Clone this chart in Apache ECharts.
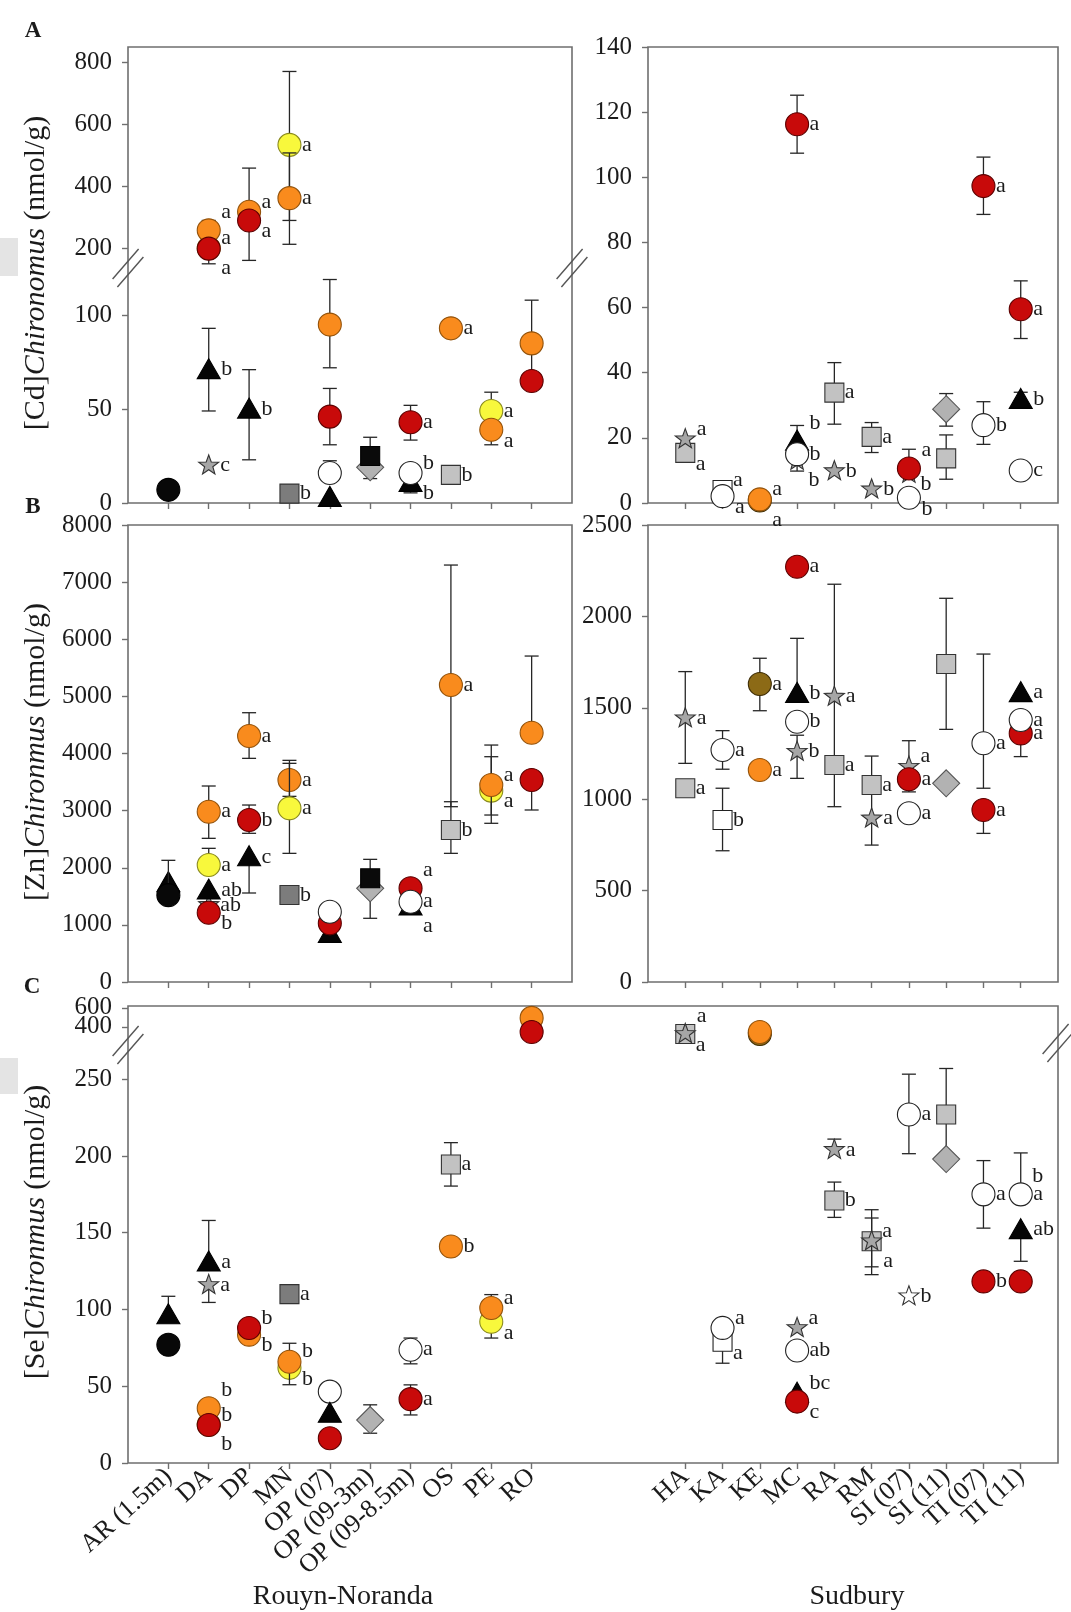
<!DOCTYPE html>
<html>
<head>
<meta charset="utf-8">
<script src="https://cdn.jsdelivr.net/npm/echarts@6/dist/echarts.min.js"></script>
<style>
html,body{margin:0;padding:0;background:#fff}
#fig{width:1071px;height:1612px}
</style>
</head>
<body>
<div id="fig"></div>
<script>
// sites (x categories)
var sitesRN = ['AR (1.5m)','DA','DP','MN','OP (07)','OP (09-3m)','OP (09-8.5m)','OS','PE','RO'];
var sitesSU = ['HA','KA','KE','MC','RA','RM','SI (07)','SI (11)','TI (07)','TI (11)'];

// rows: [site, marker, mean, low end of bar, high end of bar, letter, letter spot]
// rows are drawn in order, later ones on top
var cdRN = [
  ['AR (1.5m)','black',7,null,null,'',''],
  ['DA','tri',71,49,93,'b','r'],
  ['DA','star',20,null,null,'c','r'],
  ['DA','yellow',200,null,null,'a','dd'],
  ['DA','orange',258,225,290,'a','uu'],
  ['DA','red',199,150,null,'a','u'],
  ['DP','tri',50,23,71,'b','r'],
  ['DP','orange',318,161,459,'a','u'],
  ['DP','red',290,null,null,'a','d'],
  ['MN','dsq',5,null,null,'b','r'],
  ['MN','yellow',534,290,771,'a','r'],
  ['MN','orange',362,213,508,'a','r'],
  ['OP (07)','orange',95,72,119,'',''],
  ['OP (07)','red',46,31,61,'',''],
  ['OP (07)','white',16,null,22.5,'',''],
  ['OP (07)','tri',3,null,null,'',''],
  ['OP (09-3m)','dia',19,13,null,'',''],
  ['OP (09-3m)','bsq',25,null,35,'',''],
  ['OP (09-8.5m)','tri',11,5.4,null,'b','d'],
  ['OP (09-8.5m)','white',16,10.6,null,'b','u'],
  ['OP (09-8.5m)','red',43,33.5,52,'a','r'],
  ['OS','gsq',15,null,null,'b','r'],
  ['OS','orange',93,null,null,'a','r'],
  ['PE','yellow',49,46,59,'a','r'],
  ['PE','orange',39,31,null,'a','d'],
  ['RO','orange',85,62,108,'',''],
  ['RO','red',65,null,null,'','']
];
var cdSU = [
  ['HA','gsq',15.4,null,null,'a','d'],
  ['HA','star',19.6,null,null,'a','u'],
  ['KA','wsq',4,null,null,'a','u'],
  ['KA','white',2.1,null,null,'a','d'],
  ['KE','olive',0.8,null,null,'a','dd'],
  ['KE','orange',1.1,null,null,'a','u'],
  ['MC','red',116.3,107.4,125.2,'a','r'],
  ['MC','star',13,null,null,'b','dd'],
  ['MC','tri',19,null,23.8,'b','uu'],
  ['MC','white',15,9.8,null,'b','r'],
  ['RA','gsq',33.9,24.2,43.1,'a','r'],
  ['RA','star',9.8,null,null,'b','r'],
  ['RM','gsq',20.3,15.5,24.7,'a','r'],
  ['RM','star',4.2,null,null,'b','r'],
  ['SI (07)','white',1.6,null,null,'b','d'],
  ['SI (07)','star',9,null,null,'b','d'],
  ['SI (07)','red',10.6,null,16.5,'a','uu'],
  ['SI (11)','dia',28.8,23.6,33.6,'',''],
  ['SI (11)','gsq',13.7,7.3,20.9,'',''],
  ['TI (07)','red',97.3,88.6,106.2,'a','r'],
  ['TI (07)','white',23.9,18,31.1,'b','r'],
  ['TI (11)','red',59.5,50.5,68.2,'a','r'],
  ['TI (11)','tri',31.8,30,34,'b','r'],
  ['TI (11)','white',10,null,null,'c','r']
];
var znRN = [
  ['AR (1.5m)','tri',1740,null,null,'',''],
  ['AR (1.5m)','black',1520,null,2130,'',''],
  ['DA','star',1350,null,null,'ab','r'],
  ['DA','tri',1610,null,null,'ab','r'],
  ['DA','red',1213,null,null,'b','d'],
  ['DA','yellow',2048,null,2340,'a','r'],
  ['DA','orange',2981,2515,3431,'a','r'],
  ['DP','tri',2193,1558,null,'c','r'],
  ['DP','red',2836,2603,3098,'b','r'],
  ['DP','orange',4306,3915,4714,'a','r'],
  ['MN','dsq',1523,null,null,'b','r'],
  ['MN','orange',3536,3250,3828,'a','r'],
  ['MN','yellow',3040,2252,3880,'a','r'],
  ['OP (07)','tri',852,null,null,'',''],
  ['OP (07)','red',1027,null,null,'',''],
  ['OP (07)','white',1231,null,null,'',''],
  ['OP (09-3m)','dia',1640,1115,null,'',''],
  ['OP (09-3m)','bsq',1815,null,2147,'',''],
  ['OP (09-8.5m)','red',1640,null,null,'a','uu'],
  ['OP (09-8.5m)','tri',1330,null,null,'a','dd'],
  ['OP (09-8.5m)','white',1406,null,null,'a','r'],
  ['OS','orange',5199,3069,7299,'a','r'],
  ['OS','gsq',2661,2252,3156,'b','r'],
  ['PE','yellow',3350,2778,3944,'a','d'],
  ['PE','orange',3448,2923,4148,'a','u'],
  ['RO','orange',4364,null,5706,'',''],
  ['RO','red',3536,3011,null,'','']
];
var znSU = [
  ['HA','star',1443,1196,1698,'a','r'],
  ['HA','gsq',1060,null,null,'a','r'],
  ['KA','white',1269,1164,1375,'a','r'],
  ['KA','wsq',886,718,1060,'b','r'],
  ['KE','olive',1630,1484,1771,'a','r'],
  ['KE','orange',1160,null,null,'a','r'],
  ['MC','red',2272,null,null,'a','r'],
  ['MC','star',1260,1114,1350,'b','r'],
  ['MC','white',1424,null,null,'b','r'],
  ['MC','tri',1579,null,1880,'b','r'],
  ['RA','star',1561,959,2176,'a','r'],
  ['RA','gsq',1187,null,null,'a','r'],
  ['RM','star',895,749,1060,'a','r'],
  ['RM','gsq',1078,null,1236,'a','r'],
  ['SI (07)','star',1178,null,1320,'a','u'],
  ['SI (07)','red',1109,1040,null,'a','r'],
  ['SI (07)','white',923,null,null,'a','r'],
  ['SI (11)','gsq',1740,1382,2099,'',''],
  ['SI (11)','dia',1087,null,null,'',''],
  ['TI (07)','white',1306,1060,1794,'a','r'],
  ['TI (07)','red',941,813,null,'a','r'],
  ['TI (11)','red',1360,1233,null,'a','r'],
  ['TI (11)','white',1433,null,null,'a','r'],
  ['TI (11)','tri',1583,null,null,'a','r']
];
var seRN = [
  ['AR (1.5m)','tri',96.6,null,108.6,'',''],
  ['AR (1.5m)','black',77,null,null,'',''],
  ['DA','star',116,104.6,null,'a','r'],
  ['DA','tri',131,null,158,'a','r'],
  ['DA','yellow',25,null,null,'b','dd'],
  ['DA','orange',35.7,null,null,'b','uu'],
  ['DA','red',24.8,null,null,'b','u'],
  ['DP','orange',83.6,null,null,'b','d'],
  ['DP','red',87.9,null,null,'b','u'],
  ['MN','dsq',110,null,null,'a','r'],
  ['MN','yellow',62,null,null,'b','d'],
  ['MN','orange',66,51,78,'b','u'],
  ['OP (07)','white',46.5,null,null,'',''],
  ['OP (07)','tri',32.4,null,null,'',''],
  ['OP (07)','red',16.1,null,null,'',''],
  ['OP (09-3m)','dia',28,19.4,37.9,'',''],
  ['OP (09-8.5m)','white',73.8,64.6,81.4,'a','r'],
  ['OP (09-8.5m)','red',41.6,31.3,50.9,'a','r'],
  ['OS','gsq',194.5,180.4,208.7,'a','r'],
  ['OS','orange',141,137,145,'b','r'],
  ['PE','yellow',92,81.4,null,'a','d'],
  ['PE','orange',101,null,109.7,'a','u'],
  ['RO','orange',495,null,null,'',''],
  ['RO','red',347,null,null,'','']
];
var seSU = [
  ['HA','gsq',326,null,null,'a','d'],
  ['HA','star',326,null,null,'a','uu'],
  ['KA','wsq',79,65,null,'a','d'],
  ['KA','white',88,null,null,'a','u'],
  ['KE','olive',325,null,null,'',''],
  ['KE','orange',347,null,null,'',''],
  ['MC','star',88,null,null,'a','u'],
  ['MC','white',73.3,null,null,'ab','r'],
  ['MC','tri',45.5,null,null,'bc','u'],
  ['MC','red',40,null,null,'c','d'],
  ['RA','star',204,null,211,'a','r'],
  ['RA','gsq',171,160,183,'b','r'],
  ['RM','gsq',144.5,122.7,165,'a','u'],
  ['RM','star',144.5,127.8,159.6,'a','dd'],
  ['SI (07)','white',227,201.5,253.3,'a','r'],
  ['SI (07)','wstar',108.6,null,null,'b','r'],
  ['SI (11)','gsq',227,200,257,'',''],
  ['SI (11)','dia',198,null,null,'',''],
  ['TI (07)','white',175,153,197,'a','r'],
  ['TI (07)','red',118.3,null,null,'b','r'],
  ['TI (11)','wstar',175,null,null,'b','uu'],
  ['TI (11)','white',175,null,202,'a','r'],
  ['TI (11)','tri',152,131.4,null,'ab','r'],
  ['TI (11)','red',118.3,null,null,'','']
];

var FONT = 'Liberation Serif';
var INK = '#1b1b1b';
var FRAME = '#6f6f6f';
var IDX = [0,1,2,3,4,5,6,7,8,9];
var EVEN = [0,2,4,6,8], ODD = [1,3,5,7,9];

// marker looks
var KIND = {
  black:  {shape:'circle', fill:'#080808', stroke:'#000'},
  red:    {shape:'circle', fill:'#c80a0a', stroke:'#5c0000'},
  orange: {shape:'circle', fill:'#f98b1d', stroke:'#93520a'},
  yellow: {shape:'circle', fill:'#f8f83c', stroke:'#8a8a1e'},
  olive:  {shape:'circle', fill:'#8c6a16', stroke:'#3d2c05'},
  white:  {shape:'circle', fill:'#ffffff', stroke:'#222'},
  tri:    {shape:'tri', fill:'#050505', stroke:'#000'},
  star:   {shape:'star', fill:'#a6a6a6', stroke:'#333'},
  wstar:  {shape:'star', fill:'#ffffff', stroke:'#333'},
  gsq:    {shape:'sq', fill:'#c2c2c2', stroke:'#333'},
  dsq:    {shape:'sq', fill:'#7c7c7c', stroke:'#333'},
  bsq:    {shape:'sq', fill:'#0a0a0a', stroke:'#000'},
  wsq:    {shape:'sq', fill:'#ffffff', stroke:'#222'},
  dia:    {shape:'dia', fill:'#b2b2b2', stroke:'#555'}
};
var HALF = {circle:11.5, tri:11.5, sq:9.5, dia:13.5, star:10.5};
var SPOT = {r:0, u:-10, uu:-18, d:11, dd:20};

function markerEls(kind, x, y) {
  var k = KIND[kind];
  var st = {fill:k.fill, stroke:k.stroke, lineWidth:1.1};
  if (k.shape === 'circle') return {type:'circle', shape:{cx:x, cy:y, r:11.5}, style:st};
  if (k.shape === 'tri') return {type:'polygon', shape:{points:[[x,y-11],[x+11.5,y+9],[x-11.5,y+9]]}, style:st};
  if (k.shape === 'sq') return {type:'rect', shape:{x:x-9.5, y:y-9.5, width:19, height:19}, style:st};
  if (k.shape === 'dia') return {type:'polygon', shape:{points:[[x,y-13.5],[x+13.5,y],[x,y+13.5],[x-13.5,y]]}, style:st};
  var pts = [];
  for (var i = 0; i < 10; i++) {
    var a = -Math.PI/2 + i*Math.PI/5, rr = i % 2 ? 4.3 : 10.5;
    pts.push([x + rr*Math.cos(a), y + rr*Math.sin(a)]);
  }
  return {type:'polygon', shape:{points:pts}, style:st};
}

function makeRender(part, sites) {
  return function (params, api) {
    var r = part[params.dataIndex];
    var xi = sites.indexOf(r[0]);
    var c = api.coord([xi, r[2]]);
    var kids = [];
    var ls = {stroke:'#262626', lineWidth:1.3};
    var top = r[4] != null ? api.coord([xi, r[4]])[1] : c[1];
    var bot = r[3] != null ? api.coord([xi, r[3]])[1] : c[1];
    if (top !== bot) {
      kids.push({type:'line', shape:{x1:c[0], y1:top, x2:c[0], y2:bot}, style:ls});
      if (r[4] != null) kids.push({type:'line', shape:{x1:c[0]-7, y1:top, x2:c[0]+7, y2:top}, style:ls});
      if (r[3] != null) kids.push({type:'line', shape:{x1:c[0]-7, y1:bot, x2:c[0]+7, y2:bot}, style:ls});
    }
    kids.push(markerEls(r[1], c[0], c[1]));
    if (r[5]) {
      kids.push({type:'text', style:{text:r[5], x:c[0] + HALF[KIND[r[1]].shape] + 1, y:c[1] + SPOT[r[6]],
        fontSize:22, fontFamily:FONT, fill:INK, align:'left', verticalAlign:'middle'}});
    }
    return {type:'group', children:kids};
  };
}

var grids = [], xAxes = [], yAxes = [], series = [];
var LB = {left:128, width:444}, RB = {left:648, width:410};
var TICK = {length:6, lineStyle:{color:FRAME, width:1.4}};

function xAxis(gi, sites, ticks, labels) {
  return {
    type:'value', gridIndex:gi, min:-1, max:10, interval:1, position:'bottom', offset:0,
    axisLine:{show:false, onZero:false}, splitLine:{show:false},
    axisTick:{show:!!ticks, customValues:ticks || IDX, length:TICK.length, lineStyle:TICK.lineStyle},
    axisLabel:{show:!!labels, customValues:labels || IDX, rotate:42, margin:10,
      hideOverlap:false, showMinLabel:true, showMaxLabel:true,
      formatter:function (v) { return sites[v] || ''; },
      fontSize:26, fontFamily:FONT, color:INK}
  };
}
function yAxis(gi, seg, labels, showTicks) {
  var y = {
    type:'value', gridIndex:gi, min:seg.min, max:seg.max, position:'left', offset:0,
    axisLine:{show:false, onZero:false}, splitLine:{show:false},
    axisTick:{show:showTicks, length:TICK.length, lineStyle:TICK.lineStyle},
    axisLabel:{show:!!labels, margin:16, fontSize:25, fontFamily:FONT, color:INK,
      hideOverlap:false, showMinLabel:true, showMaxLabel:true,
      formatter:function (v) { return String(v); }}
  };
  if (labels && labels.length) { y.axisLabel.customValues = labels; y.axisTick.customValues = labels; }
  else if (seg.ticks) { y.axisTick.customValues = seg.ticks; y.axisLabel.customValues = seg.ticks; }
  else y.interval = seg.step;
  return y;
}

// segs listed bottom first
function addPanel(rows, sites, box, segs, yLabels, xLabels) {
  segs.forEach(function (seg, si) {
    var gi = grids.length;
    var bottom = si === 0;
    grids.push({left:box.left, width:box.width, top:seg.top, height:seg.height});
    var xi = xAxes.length;
    if (bottom && xLabels) {
      // labels split over two axes so crowded rotated names all stay visible
      xAxes.push(xAxis(gi, sites, IDX, EVEN));
      xAxes.push(xAxis(gi, sites, null, ODD));
    } else {
      xAxes.push(xAxis(gi, sites, bottom ? IDX : null, null));
    }
    var yi = yAxes.length;
    if (yLabels && seg.ticks && seg.ticks.length === 2) {
      yAxes.push(yAxis(gi, seg, [seg.ticks[0]], true));
      yAxes.push(yAxis(gi, seg, [seg.ticks[1]], true));
    } else {
      var y = yAxis(gi, seg, null, yLabels);
      y.axisLabel.show = yLabels;
      yAxes.push(y);
    }
    var lo = si > 0 ? segs[si-1].max : -Infinity;
    var part = rows.filter(function (r) { return r[2] > lo && r[2] <= seg.max; });
    series.push({
      type:'custom', xAxisIndex:xi, yAxisIndex:yi, clip:false, z:5, silent:true,
      data:part.map(function (r) { return [sites.indexOf(r[0]), r[2]]; }),
      encode:{x:0, y:1},
      renderItem:makeRender(part, sites)
    });
  });
}

addPanel(cdRN, sitesRN, LB, [
  {top:272, height:231, min:0, max:123, ticks:[0,50,100]},
  {top:47, height:223, min:130, max:850, ticks:[200,400,600,800]}
], true, false);
addPanel(cdSU, sitesSU, RB, [{top:47, height:456, min:0, max:140, step:20}], true, false);
addPanel(znRN, sitesRN, LB, [{top:525, height:457, min:0, max:8000, step:1000}], true, false);
addPanel(znSU, sitesSU, RB, [{top:525, height:457, min:0, max:2500, step:500}], true, false);
addPanel(seRN, sitesRN, LB, [
  {top:1047, height:416, min:0, max:271, ticks:[0,50,100,150,200,250]},
  {top:1006, height:39, min:210, max:620, ticks:[400,600]}
], true, true);
addPanel(seSU, sitesSU, RB, [
  {top:1047, height:416, min:0, max:271, ticks:[0,50,100,150,200,250]},
  {top:1006, height:39, min:210, max:620, ticks:[400,600]}
], false, true);

// frames, axis breaks and texts
function frame(x0, y0, x1, y1) {
  return {type:'rect', z:3, shape:{x:x0, y:y0, width:x1-x0, height:y1-y0}, style:{fill:null, stroke:FRAME, lineWidth:1.6}};
}
function brk(cx, cy) {
  return [-4, 4].map(function (d) {
    return {type:'line', z:10, shape:{x1:cx-13+d*0.6, y1:cy+15+d, x2:cx+13+d*0.6, y2:cy-15+d}, style:{stroke:'#555', lineWidth:1.4}};
  });
}
function ttl(x, y, txt, size, extra) {
  var o = {type:'text', z:10, x:x, y:y, style:{text:txt, fontSize:size, fontFamily:FONT, fill:INK, align:'center', verticalAlign:'middle',
    rich:{i:{fontStyle:'italic', fontSize:size, fontFamily:FONT, fill:INK}}}};
  if (extra) for (var k in extra) o[k] = extra[k];
  return o;
}

var graphics = [
  {type:'rect', z:1, shape:{x:0, y:238, width:18, height:38}, style:{fill:'#e4e4e4'}},
  {type:'rect', z:1, shape:{x:0, y:1058, width:18, height:36}, style:{fill:'#e4e4e4'}},
  frame(128, 47, 572, 503),
  frame(648, 47, 1058, 503),
  frame(128, 525, 572, 982),
  frame(648, 525, 1058, 982),
  frame(128, 1006, 1058, 1463),
  ttl(33, 31, 'A', 23, null),
  ttl(33, 507, 'B', 23, null),
  ttl(32, 987, 'C', 23, null),
  ttl(36, 273, '[Cd]{i|Chironomus} (nmol/g)', 30, {rotation:Math.PI/2}),
  ttl(36, 752, '[Zn]{i|Chironmus} (nmol/g)', 30, {rotation:Math.PI/2}),
  ttl(36, 1232, '[Se]{i|Chironmus} (nmol/g)', 30, {rotation:Math.PI/2}),
  ttl(343, 1597, 'Rouyn-Noranda', 28, null),
  ttl(857, 1597, 'Sudbury', 28, null)
];
graphics[7].style.fontWeight = 'bold';
graphics[8].style.fontWeight = 'bold';
graphics[9].style.fontWeight = 'bold';
graphics = graphics.concat(brk(128, 268), brk(572, 268), brk(128, 1045), brk(1058, 1043));

var chart = echarts.init(document.getElementById('fig'), null, {renderer:'canvas'});
chart.setOption({
  animation:false,
  backgroundColor:'#ffffff',
  grid:grids,
  xAxis:xAxes,
  yAxis:yAxes,
  series:series,
  graphic:{elements:graphics}
});
</script>
</body>
</html>
